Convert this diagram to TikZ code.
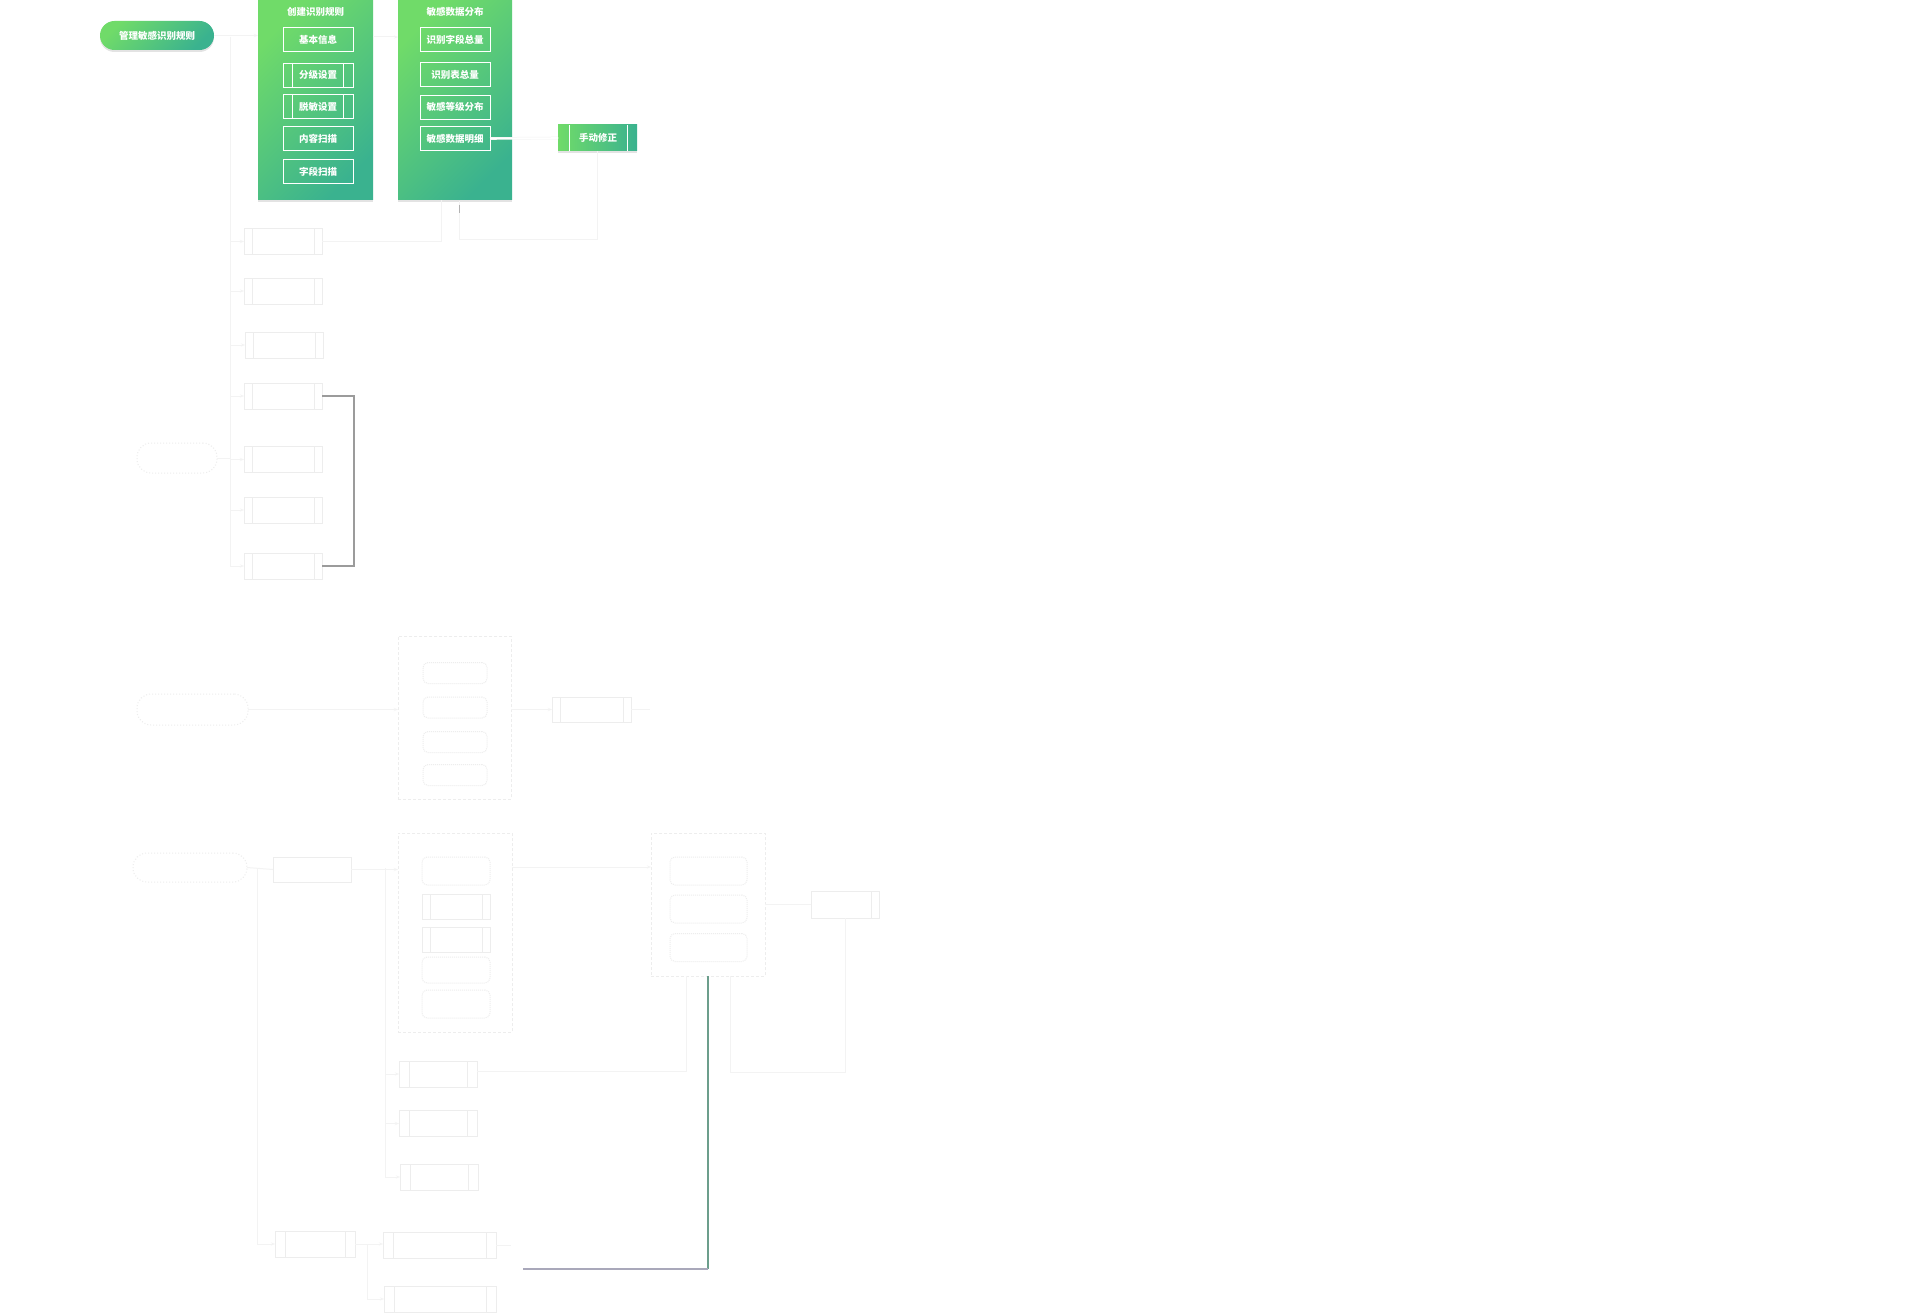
\documentclass[tikz,border=0pt]{standalone}
\usepackage{fontspec}
\setmainfont{Noto Sans CJK SC}
\usetikzlibrary{shadows,arrows.meta}
\definecolor{gA}{HTML}{70DB69}
\definecolor{gB}{HTML}{3AB28F}
\definecolor{fa}{HTML}{EDEDED}
\definecolor{fl}{HTML}{F3F3F3}
\definecolor{brk}{HTML}{9B9B9B}
\definecolor{vg}{HTML}{6C9E8C}
\definecolor{hg}{HTML}{A9A8BA}
\begin{document}
\begin{tikzpicture}[x=1pt,y=-1pt,
  every node/.style={inner sep=0pt,outer sep=0pt,font=\fontsize{9.5}{11}\selectfont},
  greenbox/.style={rectangle,left color=gA,right color=gB,shading angle=45,
    drop shadow={opacity=0.22,shadow xshift=0pt,shadow yshift=-2pt}},
  greenpill/.style={greenbox,rounded corners=14.5pt},
  inbox/.style={draw=white,line width=0.8pt,text=white,minimum width=70pt,minimum height=24pt,font=\fontsize{9.5}{11}\selectfont\bfseries},
  wtext/.style={text=white,font=\fontsize{9.5}{11}\selectfont\bfseries},
  fbox/.style={draw=fa,line width=1pt,minimum width=78pt,minimum height=26pt},
  fpill/.style={draw=fa,line width=1pt,dotted,rounded corners=14pt},
  fcont/.style={draw=fa,line width=1pt,densely dashed},
  fitem/.style={draw=fa,line width=1pt,densely dotted,rounded corners=5pt},
  fline/.style={draw=fl,line width=1pt},
  farrow/.style={fline,-{Stealth[length=4pt,width=3pt]}},
]
\fill[white] (0,0) rectangle (1920,1316);
\useasboundingbox (0,0) rectangle (1920,1316);

% ---------- top green part ----------
\node[greenpill,minimum width=114pt,minimum height=29pt] (P) at (157,35.5) {};
\node[wtext] (Pt) at (P.center) {管理敏感识别规则};

\node[greenbox,minimum width=115pt,minimum height=199pt] (A) at (315.5,100.5) {};
\node[wtext] (At) at (315.5,12) {创建识别规则};
\node[inbox] (a1) at (318,39.5) {基本信息};
\node[inbox] (a2) at (318,75) {分级设置};
\node[inbox] (a3) at (318,106.5) {脱敏设置};
\node[inbox] (a4) at (318,138.5) {内容扫描};
\node[inbox] (a5) at (318,171.5) {字段扫描};
\foreach \n in {a2,a3}{
  \draw[white,line width=0.8pt] ([xshift=9.5pt]\n.north west) -- ([xshift=9.5pt]\n.south west);
  \draw[white,line width=0.8pt] ([xshift=-9.5pt]\n.north east) -- ([xshift=-9.5pt]\n.south east);
}

\node[greenbox,minimum width=114pt,minimum height=199pt] (B) at (455,100.5) {};
\node[wtext] (Bt) at (455,12) {敏感数据分布};
\node[inbox] (b1) at (455,39.5) {识别字段总量};
\node[inbox] (b2) at (455,74.5) {识别表总量};
\node[inbox] (b3) at (455,107) {敏感等级分布};
\node[inbox] (b4) at (455,138.5) {敏感数据明细};

\node[rectangle,left color=gA,right color=gB,minimum width=79pt,minimum height=26pt,
  drop shadow={opacity=0.22,shadow xshift=0pt,shadow yshift=-2pt}] (M) at (597.5,138) {};
\node[wtext] (Mt) at (598,138) {手动修正};
\draw[white,line width=0.8pt] ([xshift=11pt]M.north west) -- ([xshift=11pt]M.south west);
\draw[white,line width=0.8pt] ([xshift=-10pt]M.north east) -- ([xshift=-10pt]M.south east);

\draw[fl,line width=2.6pt] (b4.east) -- (M.west);
\draw[white,line width=1.6pt] (b4.east) -- (M.west);

\draw[farrow] (P.east) -- (A.west |- P.east);
\draw[farrow] (A.east |- 0,37) -- (B.west |- 0,37);

% ---------- left column ----------
\foreach \n/\x/\y in {L1/283/241.5,L2/283/291,L3/284/345,L4/283/396,L5/283/459.5,L6/283/510,L7/283/566}{
  \node[fbox] (\n) at (\x,\y) {};
  \draw[fa] ([xshift=8pt]\n.north west) -- ([xshift=8pt]\n.south west);
  \draw[fa] ([xshift=-8pt]\n.north east) -- ([xshift=-8pt]\n.south east);
}
\coordinate (T0) at (230,37);
\coordinate (T1) at (230,566);
\draw[fline] (T0) -- (T1);
\foreach \n in {L1,L2,L3,L4,L5,L6,L7}{
  \draw[farrow] (T0 |- \n.west) -- (\n.west);
}
\node[fpill,minimum width=80pt,minimum height=30pt] (Q1) at (177,458) {};
\draw[fline] (Q1.east) -- (T0 |- Q1.east);

\coordinate (c1) at (441,200);
\draw[fline] (L1.east) -| (c1);
\coordinate (c2) at (459,240);
\coordinate (c3) at (459,201);
\draw[fline] (M.south) |- (c2) -- (c3);
\coordinate (k1) at (459,205);
\coordinate (k2) at (459,213);
\draw[gray!60,line width=1pt] (k1) -- (k2);

\draw[brk,line width=1.2pt] (L4.east) -- ++(32,0) |- (L7.east);

% ---------- middle ----------
\node[fpill,minimum width=111pt,minimum height=31pt] (Q2) at (192.5,709.5) {};
\node[fcont,minimum width=113pt,minimum height=163pt] (C1) at (454.5,717.5) {};
\foreach \n/\y in {e1/673,e2/707.5,e3/742,e4/775}{
  \node[fitem,minimum width=64pt,minimum height=21pt] (\n) at (455,\y) {};
}
\node[fbox,minimum width=79pt,minimum height=25pt] (R1) at (591.5,709.5) {};
\draw[fa] ([xshift=8pt]R1.north west) -- ([xshift=8pt]R1.south west);
\draw[fa] ([xshift=-8pt]R1.north east) -- ([xshift=-8pt]R1.south east);
\draw[farrow] (Q2.east) -- (C1.west |- Q2.east);
\draw[farrow] (C1.east |- R1.west) -- (R1.west);
\coordinate (r1o) at (650,709.5);
\draw[fline] (R1.east) -- (r1o);

% ---------- lower ----------
\node[fpill,minimum width=114pt,minimum height=29pt] (Q3) at (190,867.5) {};
\node[fbox,minimum width=78pt,minimum height=25pt] (S) at (312,869.5) {};
\node[fcont,minimum width=114pt,minimum height=199pt] (C2) at (455,932.5) {};
\node[fitem,minimum width=68pt,minimum height=28pt] (f1) at (456,871) {};
\node[fbox,minimum width=68pt,minimum height=25pt] (f2) at (456,906.5) {};
\node[fbox,minimum width=68pt,minimum height=25pt] (f3) at (456,939.5) {};
\node[fitem,minimum width=68pt,minimum height=26pt] (f4) at (456,970) {};
\node[fitem,minimum width=68pt,minimum height=28pt] (f5) at (456,1004) {};
\foreach \n in {f2,f3}{
  \draw[fa] ([xshift=8pt]\n.north west) -- ([xshift=8pt]\n.south west);
  \draw[fa] ([xshift=-8pt]\n.north east) -- ([xshift=-8pt]\n.south east);
}
\node[fcont,minimum width=114pt,minimum height=143pt] (C3) at (708,904.5) {};
\foreach \n/\y in {g1/871,g2/909,g3/947.5}{
  \node[fitem,minimum width=77pt,minimum height=28pt] (\n) at (708.5,\y) {};
}
\node[fbox,minimum width=68pt,minimum height=27pt] (R2) at (845,904.5) {};
\draw[fa] ([xshift=-8pt]R2.north east) -- ([xshift=-8pt]R2.south east);

\draw[fline] (Q3.east) -- (S.west);
\draw[farrow] (S.east) -- (C2.west |- S.east);
\draw[farrow] (C2.east |- 0,867) -- (C3.west |- 0,867);
\draw[fline] (C3.east |- R2.west) -- (R2.west);

% bottom boxes
\node[fbox] (Da) at (438,1074) {};
\node[fbox] (Db) at (438,1123.5) {};
\node[fbox] (Dc) at (439,1177) {};
\node[fbox,minimum width=80pt] (H) at (315,1244) {};
\node[fbox,minimum width=113pt] (Dd) at (439.5,1245) {};
\node[fbox,minimum width=112pt] (De) at (440,1299) {};
\foreach \n in {Da,Db,Dc,H,Dd,De}{
  \draw[fa] ([xshift=10pt]\n.north west) -- ([xshift=10pt]\n.south west);
  \draw[fa] ([xshift=-10pt]\n.north east) -- ([xshift=-10pt]\n.south east);
}
\coordinate (u0) at (257,868);
\draw[farrow] (u0) |- (H.west);
\coordinate (u1) at (385,868);
\coordinate (u2) at (385,1177);
\draw[fline] (u1) -- (u2);
\foreach \n in {Da,Db,Dc}{ \draw[farrow] (u1 |- \n.west) -- (\n.west); }
\draw[farrow] (H.east) -- (Dd.west |- H.east);
\coordinate (u3) at (367,1244);
\draw[farrow] (u3) |- (De.west);
\coordinate (u4) at (511,1245);
\draw[fline] (Dd.east) -- (u4);

% right side faint links
\coordinate (v1) at (730,1072);
\draw[fline] (R2.south) |- (v1) -- (C3.south -| v1);
\coordinate (v2) at (686,1071);
\draw[fline] (C3.south -| v2) -- (v2) -- (Da.east |- v2);

% visible grey-green connector
\coordinate (w1) at (708,1269);
\coordinate (w2) at (523,1269);
\draw[vg,line width=1.4pt] (C3.south) -- (w1);
\draw[hg,line width=2pt] (w1) -- (w2);
\end{tikzpicture}
\end{document}
